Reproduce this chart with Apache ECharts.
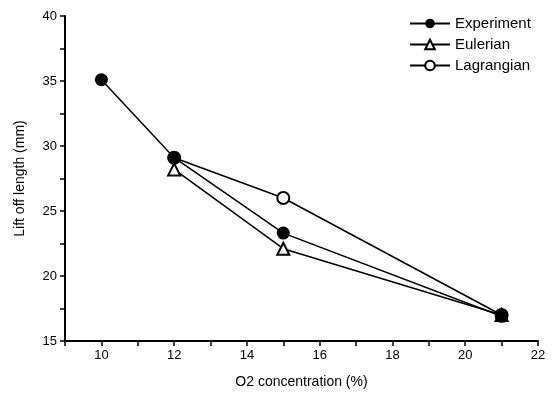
<!DOCTYPE html>
<html>
<head>
<meta charset="utf-8">
<script src="https://cdn.jsdelivr.net/npm/echarts@6/dist/echarts.min.js"></script>
<style>
  html, body { margin: 0; padding: 0; background: #fff; }
  #chart { width: 553px; height: 397px; }
</style>
</head>
<body>
<div id="chart"></div>
<script>
// 数据
var experimentX = [10, 12, 15, 21];
var experimentY = [35.1, 29.1, 23.3, 16.9];
var eulerianX = [12, 15, 21];
var eulerianY = [28.2, 22.1, 17.0];
var lagrangianX = [12, 15, 21];
var lagrangianY = [29.1, 26.0, 17.0];

function pairs(xs, ys) {
  return xs.map(function (x, i) { return [x, ys[i]]; });
}

var myChart = echarts.init(document.getElementById('chart'));
var font = 'Liberation Sans, Arial, sans-serif';

var option = {
  animation: false,
  textStyle: { fontFamily: font, color: '#000' },
  grid: { left: 65, top: 16, right: 15, bottom: 56 },
  // 图例
  legend: {
    orient: 'vertical',
    left: 404,
    top: 11,
    itemWidth: 40,
    itemHeight: 12,
    itemGap: 6,
    textStyle: { fontSize: 15, color: '#000', fontFamily: font },
    data: ['Experiment', 'Eulerian', 'Lagrangian']
  },
  xAxis: {
    type: 'value',
    min: 9,
    max: 22,
    interval: 1,
    name: 'O2 concentration (%)',
    nameLocation: 'middle',
    nameGap: 34,
    nameTextStyle: { fontSize: 14, color: '#000' },
    axisLine: { lineStyle: { color: '#000', width: 2 } },
    axisTick: { lineStyle: { color: '#000', width: 1.5 }, length: 5 },
    axisLabel: {
      fontSize: 13, color: '#000',
      formatter: function (v) { return v % 2 === 0 ? v : ''; }
    },
    splitLine: { show: false }
  },
  yAxis: {
    type: 'value',
    min: 15,
    max: 40,
    interval: 2.5,
    name: 'Lift off length (mm)',
    nameLocation: 'middle',
    nameGap: 38,
    nameTextStyle: { fontSize: 14, color: '#000' },
    axisLine: { show: true, lineStyle: { color: '#000', width: 2 } },
    axisTick: { show: true, lineStyle: { color: '#000', width: 1.5 }, length: 5 },
    axisLabel: {
      fontSize: 13, color: '#000',
      formatter: function (v) { return v % 5 === 0 ? v : ''; }
    },
    splitLine: { show: false }
  },
  series: [
    {
      name: 'Lagrangian',
      type: 'line',
      data: pairs(lagrangianX, lagrangianY),
      symbol: 'emptyCircle',
      symbolSize: 12,
      itemStyle: { color: '#000', borderWidth: 1.5 },
      lineStyle: { color: '#000', width: 1.5 }
    },
    {
      name: 'Eulerian',
      type: 'line',
      data: pairs(eulerianX, eulerianY),
      symbol: 'emptyTriangle',
      symbolSize: 12,
      itemStyle: { color: '#000', borderWidth: 1.5 },
      lineStyle: { color: '#000', width: 1.5 }
    },
    {
      name: 'Experiment',
      type: 'line',
      data: pairs(experimentX, experimentY),
      symbol: 'circle',
      symbolSize: 13,
      itemStyle: { color: '#000' },
      lineStyle: { color: '#000', width: 1.5 }
    }
  ]
};

myChart.setOption(option);
</script>
</body>
</html>
